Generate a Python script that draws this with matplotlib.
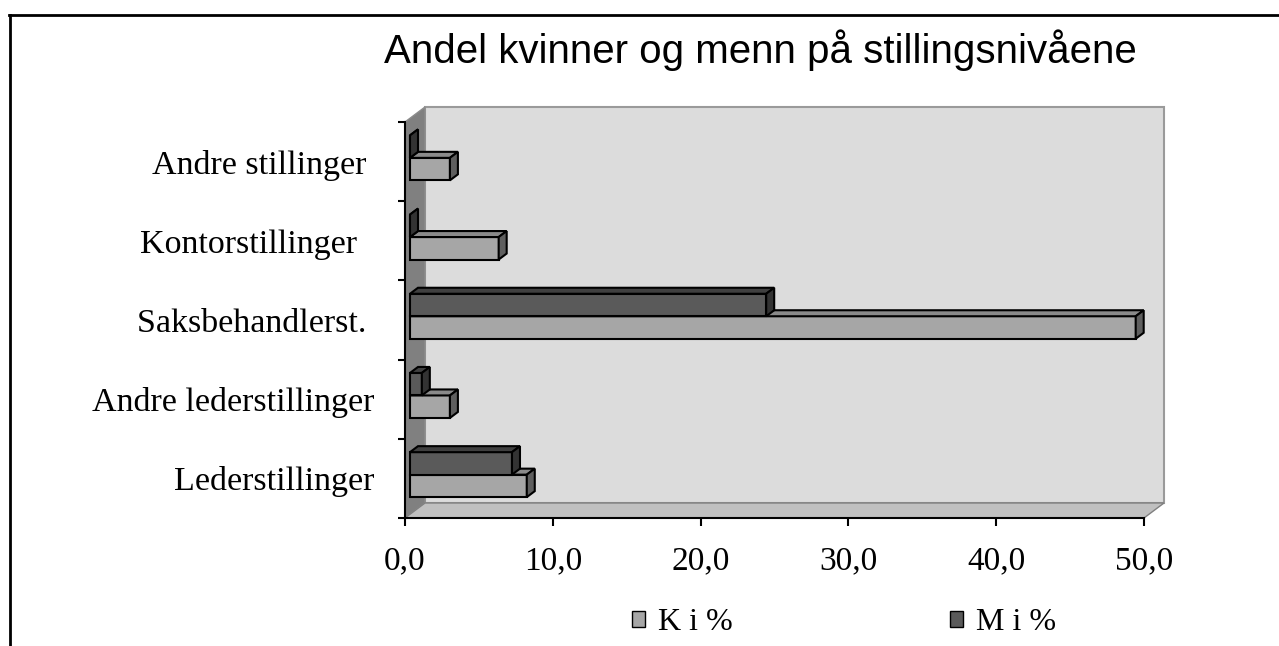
import matplotlib.pyplot as plt
from matplotlib.patches import Polygon, Rectangle
from matplotlib.lines import Line2D

# data
categories = ['Lederstillinger', 'Andre lederstillinger', 'Saksbehandlerst. ',
              'Kontorstillinger  ', 'Andre stillinger ']
k_pct = [7.9, 2.7, 49.1, 6.0, 2.7]
m_pct = [6.9, 0.8, 24.1, 0.0, 0.0]
x_ticks = [0, 10, 20, 30, 40, 50]
x_ticklabels = ['0,0', '10,0', '20,0', '30,0', '40,0', '50,0']
series_names = ['K i %', 'M i %']
title = 'Andel kvinner og menn på stillingsnivåene'

W, H = 1279, 646
fig = plt.figure(figsize=(W / 100, H / 100), dpi=100)

# outer frame (only top and left visible in the reference)
fig.add_artist(Line2D([9.5 / W, 9.5 / W], [0, 1 - 15 / H], color='black', lw=2))
fig.add_artist(Line2D([8.5 / W, 1], [1 - 15 / H, 1 - 15 / H], color='black', lw=2))

fig.text(760 / W, 1 - 50 / H, title, ha='center', va='center',
         fontsize=29, family='Liberation Sans')

ax = fig.add_axes([405 / W, 1 - 518 / H, (1144 - 405) / W, (518 - 122) / H])
ax.set_xlim(0, 50)
ax.set_ylim(0, len(categories))
ax.patch.set_visible(False)

# pixel -> data conversions for the fake 3D depth
pos = ax.get_position()
ppx = pos.width * W / 50
ppy = pos.height * H / len(categories)
depth_px = (20, 15)
Dx, Dy = depth_px[0] / ppx, depth_px[1] / ppy
xmax, ymax = 50, len(categories)

# walls
ax.add_patch(Rectangle((Dx, Dy), xmax, ymax, facecolor='#dcdcdc', edgecolor='#9a9a9a',
                       lw=1.5, clip_on=False, zorder=0.5))
ax.add_patch(Polygon([(0, 0), (Dx, Dy), (Dx, ymax + Dy), (0, ymax)], closed=True,
                     facecolor='#808080', edgecolor='#8c8c8c', lw=1, clip_on=False, zorder=0.6))
ax.add_patch(Polygon([(0, 0), (xmax, 0), (xmax + Dx, Dy), (Dx, Dy)], closed=True,
                     facecolor='#c0c0c0', edgecolor='#808080', lw=1, clip_on=False, zorder=0.6))

colors = {
    'K': ('#a6a6a6', '#8a8a8a', '#5f5f5f'),
    'M': ('#5a5a5a', '#404040', '#333333'),
}


def box(y0, h, v, cols):
    fx, fy = 0.25 * Dx, 0.25 * Dy
    bx, by = 0.65 * Dx, 0.65 * Dy
    front, top, side = cols
    kw = dict(edgecolor='black', lw=1.5, clip_on=False, zorder=3, joinstyle='miter')
    ax.add_patch(Polygon([(fx, y0 + fy), (v + fx, y0 + fy), (v + fx, y0 + h + fy), (fx, y0 + h + fy)],
                         closed=True, facecolor=front, **kw))
    ax.add_patch(Polygon([(fx, y0 + h + fy), (v + fx, y0 + h + fy), (v + bx, y0 + h + by), (bx, y0 + h + by)],
                         closed=True, facecolor=top, **kw))
    ax.add_patch(Polygon([(v + fx, y0 + fy), (v + bx, y0 + by), (v + bx, y0 + h + by), (v + fx, y0 + h + fy)],
                         closed=True, facecolor=side, **kw))


bar_h = 0.284
for i in range(len(categories)):
    box(i + 0.5 - bar_h, bar_h, k_pct[i], colors['K'])
    box(i + 0.5, bar_h, m_pct[i], colors['M'])

for s in ['top', 'right']:
    ax.spines[s].set_visible(False)
for s in ['left', 'bottom']:
    ax.spines[s].set_linewidth(1.5)
    ax.spines[s].set_zorder(2.5)

ax.set_xticks(x_ticks)
ax.set_xticklabels(x_ticklabels, family='Liberation Serif', fontsize=24)
ax.tick_params(axis='x', length=6, width=1.5, pad=14)
ax.set_yticks(range(len(categories) + 1))
ax.set_yticklabels([])
ax.set_yticks([i + 0.5 for i in range(len(categories))], minor=True)
ax.set_yticklabels(categories, minor=True, family='Liberation Serif', fontsize=24.5)
ax.tick_params(axis='y', which='major', length=5, width=1.5)
ax.tick_params(axis='y', which='minor', length=0, pad=22)

handles = [Rectangle((0, 0), 1, 1, facecolor=colors['K'][0], edgecolor='black', lw=1),
           Rectangle((0, 0), 1, 1, facecolor=colors['M'][0], edgecolor='black', lw=1)]
fig.legend(handles, series_names, loc='center', bbox_to_anchor=(844 / W, 1 - 623 / H),
           ncol=2, frameon=False, prop={'family': 'Liberation Serif', 'size': 23},
           handlelength=0.42, handleheight=0.42, handletextpad=0.4, columnspacing=6.8)

fig.savefig('out.png', dpi=100)
